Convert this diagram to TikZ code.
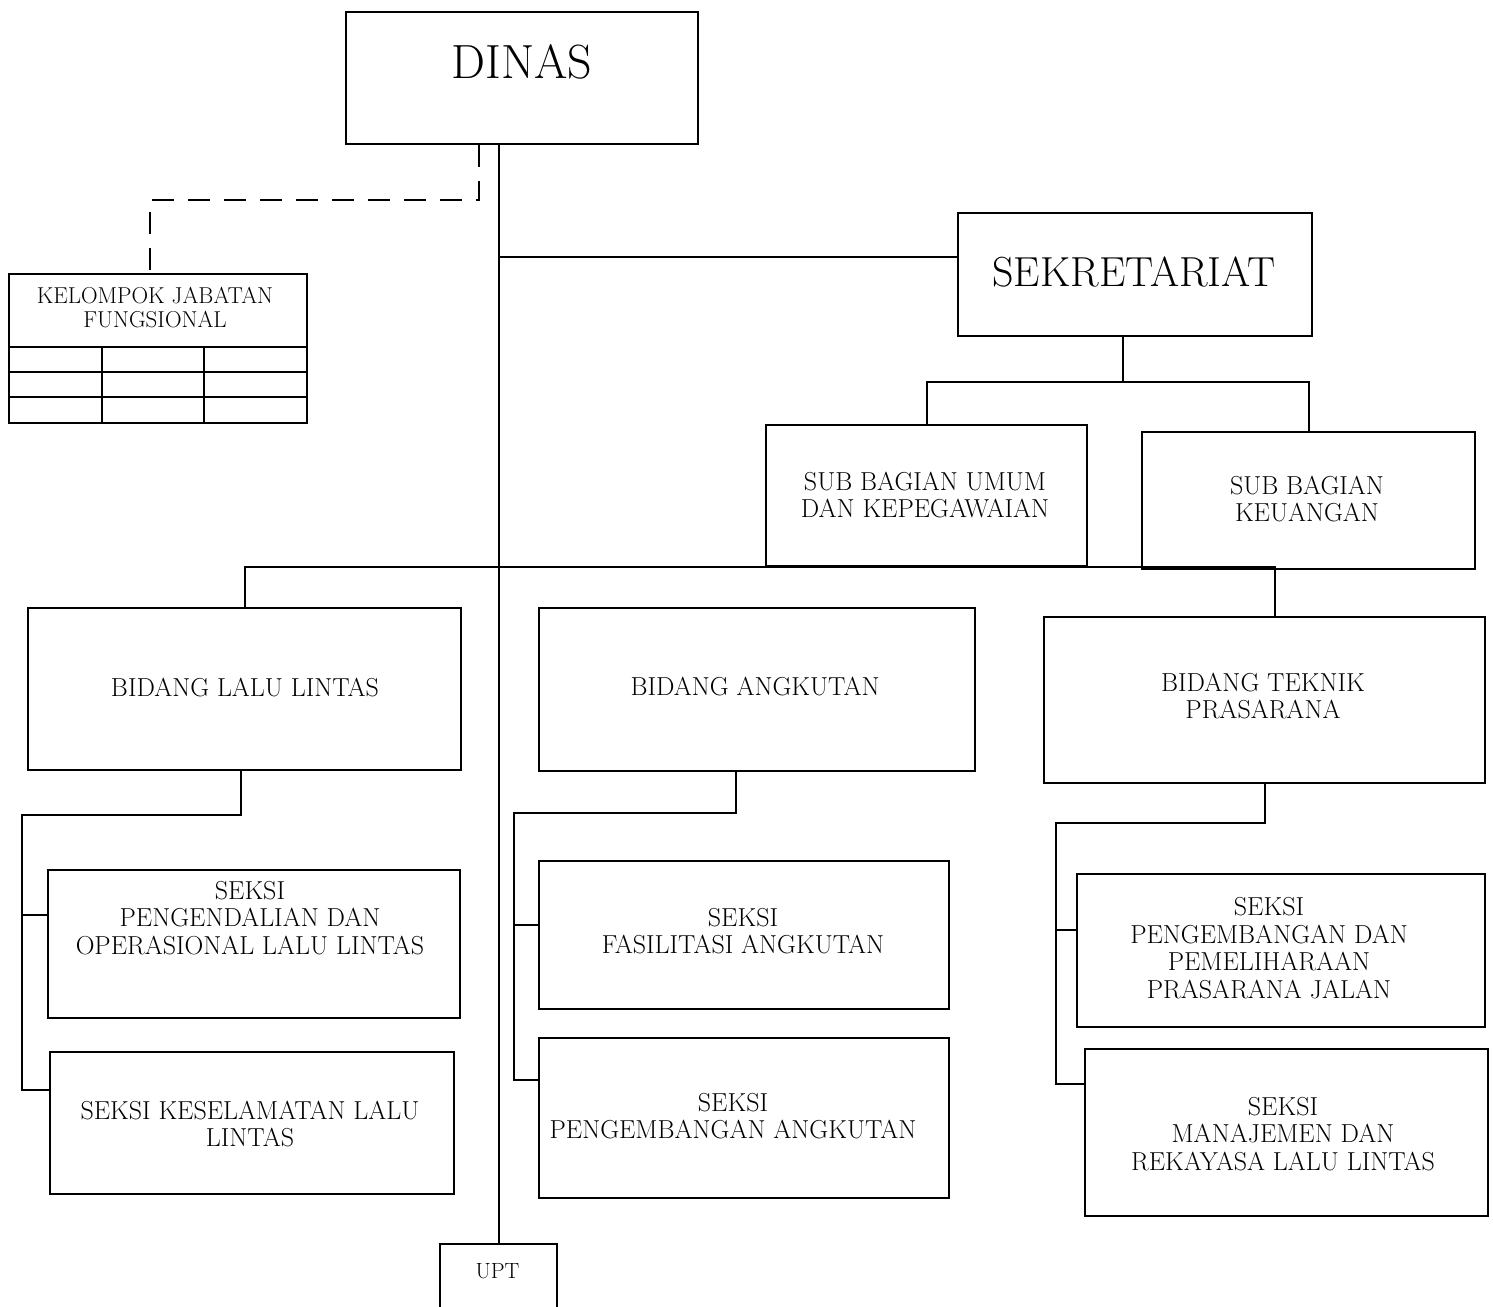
\documentclass[tikz,border=0pt]{standalone}
\usepackage{fontspec}
\begin{document}
\begin{tikzpicture}[x=1pt,y=-1pt,
  box/.style={draw, line width=2.2pt, anchor=north west, inner sep=0pt},
  lbl/.style={align=center, inner sep=0pt, font=\fontsize{26}{27.5}\selectfont},
  conn/.style={line width=2pt},
  dashconn/.style={line width=2.4pt, dash pattern=on 22pt off 14pt},
  thin/.style={line width=1.6pt}]
\useasboundingbox[fill=white] (0,0) rectangle (1493,1306);
\newcommand\bx[5]{\node[box, minimum width={(#4-#2)*1pt}, minimum height={(#5-#3)*1pt}] (#1) at (#2,#3) {};}
% boxes
\bx{dinas}{345}{11}{697}{143}
\bx{sek}{957}{212}{1311}{335}
\bx{kjf}{8}{273}{306}{422}
\bx{sbu}{765}{424}{1086}{565}
\bx{sbk}{1141}{431}{1474}{568}
\bx{bll}{27}{607}{460}{769}
\bx{ba}{538}{607}{974}{770}
\bx{btp}{1043}{616}{1484}{782}
\bx{s1}{47}{869}{459}{1017}
\bx{s2}{49}{1051}{453}{1193}
\bx{s3}{538}{860}{948}{1008}
\bx{s4}{538}{1037}{948}{1197}
\bx{s5}{1076}{873}{1484}{1026}
\bx{s6}{1084}{1048}{1487}{1215}
\node[box, minimum width=117pt, minimum height=70pt] (upt) at (439,1243) {};
% texts
\node[lbl, font=\fontsize{48}{52}\selectfont] (tdinas) at (522,62) {DINAS};
\node[lbl, font=\fontsize{42}{46}\selectfont] (tsek) at (1134,272) {SEKRETARIAT};
\node[lbl, font=\fontsize{23}{24}\selectfont] (tkjf) at (155,308) {KELOMPOK JABATAN\\FUNGSIONAL};
\node[lbl] (tsbu) at (925,495) {SUB BAGIAN UMUM\\DAN KEPEGAWAIAN};
\node[lbl] (tsbk) at (1307,499) {SUB BAGIAN\\KEUANGAN};
\node[lbl] (tbll) at (245,688) {BIDANG LALU LINTAS};
\node[lbl] (tba) at (755,687) {BIDANG ANGKUTAN};
\node[lbl] (tbtp) at (1263,696) {BIDANG TEKNIK\\PRASARANA};
\node[lbl] (ts1) at (250,918) {SEKSI\\PENGENDALIAN DAN\\OPERASIONAL LALU LINTAS};
\node[lbl] (ts2) at (250,1124) {SEKSI KESELAMATAN LALU\\LINTAS};
\node[lbl] (ts3) at (743,931) {SEKSI\\FASILITASI ANGKUTAN};
\node[lbl] (ts4) at (733,1116) {SEKSI\\PENGEMBANGAN ANGKUTAN};
\node[lbl] (ts5) at (1269,948) {SEKSI\\PENGEMBANGAN DAN\\PEMELIHARAAN\\PRASARANA JALAN};
\node[lbl] (ts6) at (1283,1134) {SEKSI\\MANAJEMEN DAN\\REKAYASA LALU LINTAS};
\node[lbl, font=\fontsize{22}{24}\selectfont] (tupt) at (497.5,1271) {UPT};
% KJF table lines
\foreach \yy in {347,372,397} \draw[thin] (kjf.west |- 0,\yy) -- (kjf.east |- 0,\yy);
\foreach \xx in {102,204} \draw[thin] (kjf.south -| \xx,0) -- (\xx,347);
% main spine
\draw[conn] (upt.north |- dinas.south) -- (upt.north);
% dashed to KJF
\draw[dashconn] ([xshift=-43pt]dinas.south) -- ([xshift=-43pt]dinas.south |- 0,200) -- (150,200) -- (kjf.north -| 150,0);
% sekretariat
\draw[conn] (upt.north |- 0,257) -- (sek.west |- 0,257);
\draw[conn] ([xshift=-12pt]sek.south) -- ([xshift=-12pt]sek.south |- 0,382);
\draw[conn] (sbu.north) -- (sbu.north |- 0,382) -- (sbk.north |- 0,382) -- (sbk.north);
% bidang
\draw[conn] (bll.north) -- (bll.north |- 0,567) -- ([xshift=10pt]btp.north |- 0,567) -- ([xshift=10pt]btp.north);
% bidang lalu lintas
\draw[conn] ([xshift=-4pt]bll.south) -- ([xshift=-4pt]bll.south |- 0,815) -- (22,815) -- (22,1090) -- (s2.west |- 0,1090);
\draw[conn] (22,915) -- (s1.west |- 0,915);
% bidang angkutan
\draw[conn] ([xshift=-21pt]ba.south) -- ([xshift=-21pt]ba.south |- 0,813) -- (514,813) -- (514,1080) -- (s4.west |- 0,1080);
\draw[conn] (514,925) -- (s3.west |- 0,925);
% bidang teknik prasarana
\draw[conn] (btp.south) -- (btp.south |- 0,823) -- (1056,823) -- (1056,1084) -- (s6.west |- 0,1084);
\draw[conn] (1056,930) -- (s5.west |- 0,930);
\end{tikzpicture}
\end{document}
